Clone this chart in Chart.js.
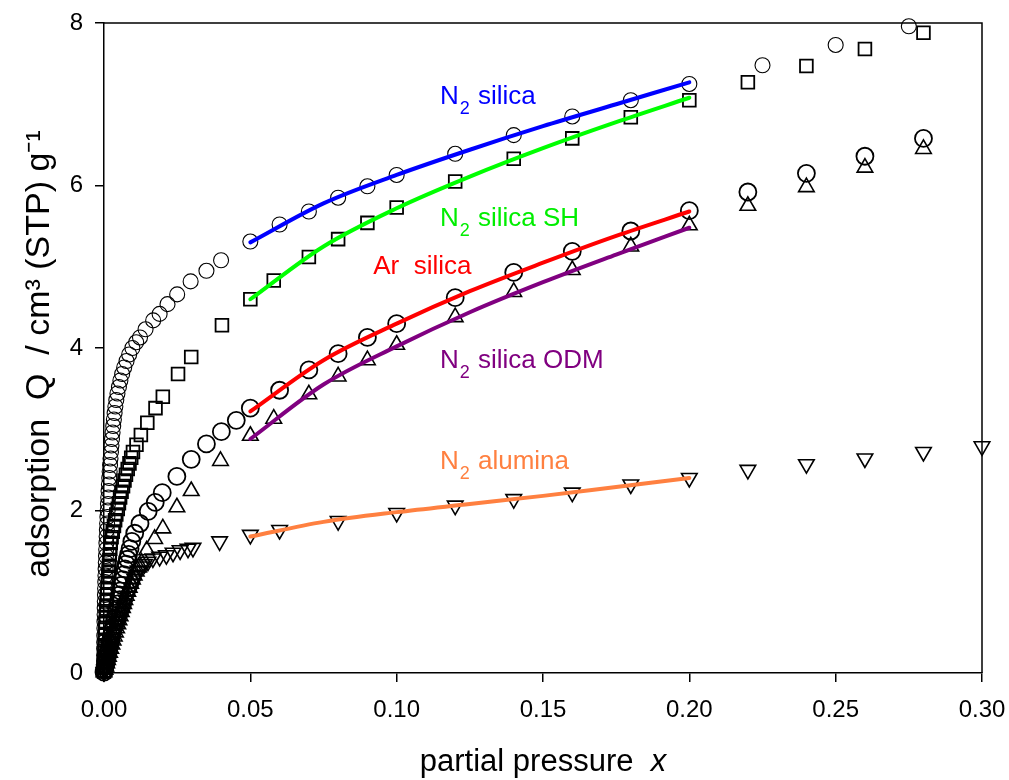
<!DOCTYPE html>
<html>
<head>
<meta charset="utf-8">
<title>Adsorption isotherms</title>
<script src="https://cdn.jsdelivr.net/npm/chart.js@4.4.0/dist/chart.umd.min.js"></script>
<style>
  html, body { margin: 0; padding: 0; background: #fff; }
</style>
</head>
<body>
<canvas id="chart" width="1009" height="780"></canvas>
<script>
// -- THE DATA --

// N2 on silica (small open circles)
const silicaX = [0, 0.00001, 0.00002, 0.00003, 0.00005, 0.00007, 0.0001, 0.00013, 0.00016, 0.0002,
  0.00024, 0.00028, 0.00033, 0.00038, 0.00043, 0.00049, 0.00055, 0.00061, 0.00068, 0.00075,
  0.00082, 0.0009, 0.00098, 0.00107, 0.00116, 0.00125, 0.00135, 0.00145, 0.00156, 0.00168,
  0.0018, 0.00193, 0.00207, 0.00222, 0.00238, 0.00255, 0.00273, 0.00293, 0.00315, 0.00338,
  0.00362, 0.00388, 0.0042, 0.0046, 0.0051, 0.0056, 0.0062, 0.0069, 0.0077, 0.0086,
  0.0097, 0.011, 0.0123, 0.0142, 0.0168, 0.019, 0.0217, 0.025, 0.0296, 0.035, 0.040,
  0.05, 0.06, 0.07, 0.08, 0.09, 0.10, 0.12, 0.14, 0.16, 0.18, 0.20, 0.225, 0.25, 0.275];
const silicaY = [0.02, 0.08, 0.15, 0.22, 0.30, 0.38, 0.46, 0.55, 0.63, 0.72,
  0.80, 0.88, 0.96, 1.04, 1.12, 1.20, 1.28, 1.36, 1.44, 1.52,
  1.60, 1.68, 1.76, 1.84, 1.92, 2.00, 2.08, 2.16, 2.24, 2.32,
  2.40, 2.48, 2.56, 2.64, 2.72, 2.80, 2.88, 2.96, 3.04, 3.12,
  3.20, 3.28, 3.36, 3.44, 3.52, 3.60, 3.68, 3.76, 3.84, 3.92,
  4.00, 4.07, 4.13, 4.23, 4.34, 4.42, 4.54, 4.66, 4.82, 4.95, 5.08,
  5.31, 5.52, 5.68, 5.85, 5.99, 6.13, 6.39, 6.62, 6.85, 7.05, 7.25, 7.48, 7.73, 7.96];

// N2 on silica SH (open squares)
const shX = [0, 0.00002, 0.00005, 0.0001, 0.00016, 0.00023, 0.0003, 0.00038, 0.00047, 0.00056,
  0.00066, 0.00076, 0.00086, 0.00097, 0.00108, 0.0012, 0.00132, 0.00144, 0.00157, 0.0017,
  0.00184, 0.00198, 0.00214, 0.0023, 0.0026, 0.003, 0.0034, 0.0038, 0.0042, 0.0047,
  0.0051, 0.0055, 0.006, 0.0065, 0.007, 0.0075, 0.0081, 0.0087, 0.0093, 0.0099,
  0.0111, 0.0126, 0.0148, 0.0176, 0.0201, 0.0253, 0.0298, 0.0403,
  0.05, 0.058, 0.07, 0.08, 0.09, 0.10, 0.12, 0.14, 0.16, 0.18, 0.20, 0.22, 0.24, 0.26, 0.28];
const shY = [0.02, 0.07, 0.13, 0.20, 0.27, 0.34, 0.41, 0.48, 0.55, 0.62,
  0.69, 0.76, 0.83, 0.90, 0.97, 1.04, 1.11, 1.18, 1.25, 1.32,
  1.39, 1.46, 1.53, 1.60, 1.67, 1.74, 1.81, 1.88, 1.95, 2.02,
  2.09, 2.16, 2.23, 2.30, 2.37, 2.44, 2.51, 2.58, 2.65, 2.72,
  2.81, 2.93, 3.08, 3.26, 3.40, 3.68, 3.89, 4.28,
  4.60, 4.83, 5.12, 5.34, 5.54, 5.73, 6.05, 6.33, 6.58, 6.84, 7.05, 7.27, 7.47, 7.68, 7.88];

// Ar on silica (large open circles)
const argonX = [0, 0.0002, 0.0004, 0.0006, 0.0008, 0.0011, 0.0014, 0.0017, 0.002, 0.0023,
  0.0026, 0.0029, 0.0032, 0.0035, 0.0038, 0.0041, 0.0044, 0.0047, 0.005, 0.0053,
  0.0056, 0.006, 0.0064, 0.0068, 0.0072, 0.0076, 0.008, 0.0084, 0.0089, 0.0095,
  0.0105, 0.0123, 0.0151, 0.0175, 0.0199, 0.0249, 0.0298, 0.035, 0.0401, 0.0452,
  0.05, 0.06, 0.07, 0.08, 0.09, 0.10, 0.12, 0.14, 0.16, 0.18, 0.20, 0.22, 0.24, 0.26, 0.28];
const argonY = [0.01, 0.04, 0.08, 0.11, 0.14, 0.19, 0.25, 0.30, 0.36, 0.41,
  0.47, 0.52, 0.57, 0.63, 0.68, 0.74, 0.79, 0.85, 0.90, 0.96,
  1.01, 1.08, 1.15, 1.21, 1.28, 1.34, 1.40, 1.46, 1.53, 1.62,
  1.72, 1.84, 1.99, 2.10, 2.22, 2.42, 2.63, 2.82, 2.97, 3.11,
  3.26, 3.48, 3.73, 3.93, 4.13, 4.30, 4.62, 4.93, 5.19, 5.44, 5.69, 5.92, 6.15, 6.36, 6.58];

// N2 on silica ODM (open triangles)
const odmX = [0, 0.0003, 0.0006, 0.0009, 0.0012, 0.0015, 0.0019, 0.0023, 0.0027, 0.0031,
  0.0035, 0.0039, 0.0043, 0.0047, 0.0051, 0.0055, 0.0059, 0.0063, 0.0067, 0.0071,
  0.0076, 0.0081, 0.0086, 0.0091, 0.0097, 0.0103, 0.011, 0.0118, 0.0128, 0.0146,
  0.0173, 0.0201, 0.0249, 0.0298, 0.0398,
  0.05, 0.058, 0.07, 0.08, 0.09, 0.10, 0.12, 0.14, 0.16, 0.18, 0.20, 0.22, 0.24, 0.26, 0.28];
const odmY = [0.01, 0.04, 0.08, 0.12, 0.16, 0.20, 0.25, 0.30, 0.35, 0.40,
  0.45, 0.50, 0.55, 0.60, 0.65, 0.70, 0.75, 0.80, 0.85, 0.90,
  0.95, 1.00, 1.05, 1.10, 1.15, 1.20, 1.25, 1.30, 1.36, 1.51,
  1.65, 1.78, 2.04, 2.24, 2.61,
  2.92, 3.13, 3.43, 3.65, 3.85, 4.04, 4.38, 4.69, 4.96, 5.25, 5.51, 5.75, 5.98, 6.22, 6.45];

// N2 on alumina (open inverted triangles)
const aluminaX = [0, 0.0002, 0.0004, 0.0006, 0.0008, 0.001, 0.0013, 0.0016, 0.0019, 0.0022,
  0.0025, 0.0028, 0.0031, 0.0035, 0.0039, 0.0043, 0.0047, 0.0051, 0.0055, 0.006,
  0.0065, 0.007, 0.0076, 0.0082, 0.0088, 0.0094, 0.0099, 0.0105, 0.0111, 0.0117,
  0.0127, 0.0138, 0.015, 0.0167, 0.019, 0.0213, 0.0236, 0.026, 0.0287, 0.0304, 0.0395,
  0.05, 0.06, 0.08, 0.10, 0.12, 0.14, 0.16, 0.18, 0.20, 0.22, 0.24, 0.26, 0.28, 0.30];
const aluminaY = [0.01, 0.04, 0.08, 0.11, 0.15, 0.18, 0.22, 0.26, 0.30, 0.33,
  0.36, 0.39, 0.42, 0.47, 0.51, 0.55, 0.59, 0.63, 0.67, 0.72,
  0.77, 0.83, 0.90, 0.95, 1.00, 1.05, 1.10, 1.16, 1.21, 1.26,
  1.31, 1.34, 1.37, 1.41, 1.43, 1.45, 1.48, 1.51, 1.53, 1.54, 1.62,
  1.70, 1.76, 1.87, 1.97, 2.06, 2.14, 2.22, 2.32, 2.40, 2.50, 2.57, 2.64, 2.72, 2.79];

const fitX = [0.05, 0.075, 0.10, 0.125, 0.15, 0.175, 0.20];
const fitSilica  = [5.30, 5.78, 6.13, 6.44, 6.73, 7.00, 7.27];
const fitSH      = [4.60, 5.25, 5.72, 6.11, 6.46, 6.78, 7.08];
const fitArgon   = [3.22, 3.85, 4.30, 4.70, 5.05, 5.38, 5.68];
const fitODM     = [2.88, 3.55, 4.02, 4.44, 4.81, 5.15, 5.48];
const fitAlumina = [1.68, 1.86, 1.98, 2.08, 2.18, 2.29, 2.40];

// axis ticks
const xTicks = [0, 0.05, 0.10, 0.15, 0.20, 0.25, 0.30];
const yTicks = [0, 2, 4, 6, 8];

// curve labels: [main, subscript, rest, colour, x, y]
const curveLabels = [
  ['N', '2', ' silica',     '#0000ff', 0.1148, 7.00],
  ['N', '2', ' silica SH',  '#00ee00', 0.1148, 5.505],
  ['Ar  silica', '', '',    '#ff0000', 0.092, 4.91],
  ['N', '2', ' silica ODM', '#800080', 0.1148, 3.75],
  ['N', '2', ' alumina',    '#ff8040', 0.1148, 2.507]
];

// -- THE CHART --

const FONT = "'Liberation Sans', Arial, Helvetica, sans-serif";

function pts(xs, ys) {
  return xs.map((x, i) => ({ x: x, y: ys[i] }));
}

function markers(xs, ys, style, radius, width, rotation) {
  return {
    type: 'scatter',
    data: pts(xs, ys),
    pointStyle: style,
    pointRadius: radius,
    pointBorderWidth: width,
    pointRotation: rotation || 0,
    borderColor: '#000',
    backgroundColor: 'rgba(0,0,0,0)',
    showLine: false,
    clip: false,
    order: 2
  };
}

function fit(ys, colour) {
  return {
    type: 'scatter',
    data: pts(fitX, ys),
    showLine: true,
    borderColor: colour,
    borderWidth: 4,
    borderCapStyle: 'round',
    pointRadius: 0,
    cubicInterpolationMode: 'monotone',
    clip: false,
    order: 1
  };
}

const frameAndText = {
  id: 'frameAndText',
  beforeDatasetsDraw(chart) {
    const { ctx, chartArea: a } = chart;
    ctx.save();
    ctx.strokeStyle = '#000';
    ctx.lineWidth = 1.5;
    ctx.beginPath();
    ctx.moveTo(a.left, a.top);
    ctx.lineTo(a.right, a.top);
    ctx.lineTo(a.right, a.bottom);
    ctx.stroke();
    ctx.restore();
  },
  afterDatasetsDraw(chart) {
    const { ctx, scales } = chart;
    ctx.save();
    ctx.textBaseline = 'alphabetic';
    ctx.textAlign = 'left';
    curveLabels.forEach(l => {
      let px = scales.x.getPixelForValue(l[4]);
      const py = scales.y.getPixelForValue(l[5]);
      ctx.fillStyle = l[3];
      ctx.font = '26px ' + FONT;
      ctx.fillText(l[0], px, py);
      px += ctx.measureText(l[0]).width;
      if (l[1]) {
        ctx.font = '18px ' + FONT;
        ctx.fillText(l[1], px + 1, py + 10);
        px += ctx.measureText(l[1]).width + 2;
        ctx.font = '26px ' + FONT;
        ctx.fillText(l[2], px, py);
      }
    });
    ctx.restore();
  },
  afterDraw(chart) {
    const { ctx, chartArea: a } = chart;
    ctx.save();
    ctx.fillStyle = '#000';
    // x title
    ctx.textBaseline = 'alphabetic';
    const main = 'partial pressure  ';
    ctx.font = 'italic 31px ' + FONT;
    const wItal = ctx.measureText('x').width;
    ctx.font = '31px ' + FONT;
    const wMain = ctx.measureText(main).width;
    const x0 = (a.left + a.right) / 2 - (wMain + wItal) / 2;
    ctx.textAlign = 'left';
    ctx.fillText(main, x0, 771);
    ctx.font = 'italic 31px ' + FONT;
    ctx.fillText('x', x0 + wMain, 771);
    // y title
    ctx.translate(49, (a.top + a.bottom) / 2 + 6);
    ctx.rotate(-Math.PI / 2);
    ctx.textAlign = 'center';
    ctx.font = '34px ' + FONT;
    ctx.fillText('adsorption  Q  / cm\u00B3 (STP) g\u207B\u00B9', 0, 0);
    ctx.restore();
  }
};

new Chart(document.getElementById('chart'), {
  type: 'scatter',
  data: {
    datasets: [
      fit(fitSilica, '#0000ff'),
      fit(fitSH, '#00ff00'),
      fit(fitArgon, '#ff0000'),
      fit(fitODM, '#800080'),
      fit(fitAlumina, '#ff8040'),
      markers(silicaX, silicaY, 'circle', 7.5, 1.1),
      markers(shX, shY, 'rect', 9, 1.8),
      markers(argonX, argonY, 'circle', 8.5, 1.8),
      markers(odmX, odmY, 'triangle', 9, 1.6),
      markers(aluminaX, aluminaY, 'triangle', 9, 1.6, 180)
    ]
  },
  options: {
    responsive: false,
    animation: false,
    layout: { padding: { left: 0, right: 27, top: 23, bottom: 0 } },
    plugins: {
      legend: { display: false },
      tooltip: { enabled: false }
    },
    scales: {
      x: {
        type: 'linear',
        min: 0,
        max: 0.3,
        afterFit: s => { s.height = 107; s.paddingLeft = 0; s.paddingRight = 0; },
        afterBuildTicks: s => { s.ticks = xTicks.map(v => ({ value: v })); },
        ticks: {
          color: '#000',
          font: { family: FONT, size: 24 },
          padding: 14,
          callback: v => Number(v).toFixed(2)
        },
        grid: { drawOnChartArea: false, drawTicks: true, tickLength: 9, color: '#000', lineWidth: 1.5 },
        border: { display: true, color: '#000', width: 1.5 }
      },
      y: {
        type: 'linear',
        min: 0,
        max: 8,
        afterFit: s => { s.width = 104; s.paddingTop = 0; s.paddingBottom = 0; },
        afterBuildTicks: s => { s.ticks = yTicks.map(v => ({ value: v })); },
        ticks: {
          color: '#000',
          font: { family: FONT, size: 24 },
          padding: 12
        },
        grid: { drawOnChartArea: false, drawTicks: true, tickLength: 9, color: '#000', lineWidth: 1.5 },
        border: { display: true, color: '#000', width: 1.5 }
      }
    }
  },
  plugins: [frameAndText]
});
</script>
</body>
</html>
